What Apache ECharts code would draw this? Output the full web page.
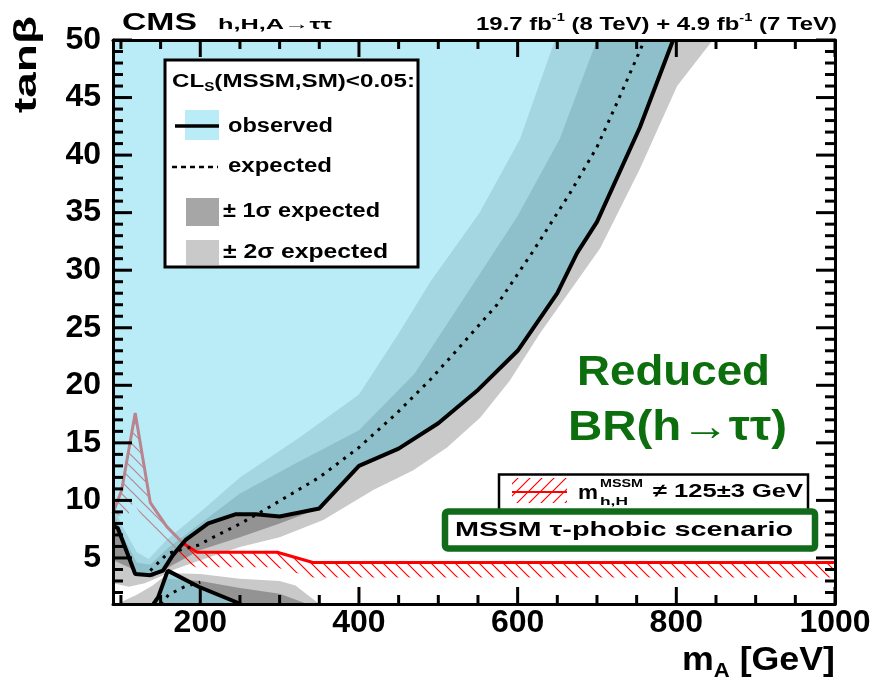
<!DOCTYPE html>
<html><head><meta charset="utf-8">
<script src="https://cdn.jsdelivr.net/npm/echarts@6/dist/echarts.min.js"></script>
<style>html,body{margin:0;padding:0;background:#fff}#c{width:875px;height:689px}</style>
</head><body><div id="c"></div>
<script>
// ---------- axis ranges & ticks ----------
const X_MIN = 90, X_MAX = 1000, Y_MIN = 1, Y_MAX = 50;
const xMajorTicks = [200, 400, 600, 800, 1000];
const xMinorTicks = [100, 150, 250, 300, 350, 450, 500, 550, 650, 700, 750, 850, 900, 950];
const yMajorTicks = [5, 10, 15, 20, 25, 30, 35, 40, 45, 50];
const yMinorTicks = [2,3,4,6,7,8,9,11,12,13,14,16,17,18,19,21,22,23,24,26,27,28,29,31,32,33,34,36,37,38,39,41,42,43,44,46,47,48,49];

// ---------- contours (mA [GeV], tanβ) ----------
const observedUpper = [[90,7.8],[96,7.6],[118,3.6],[137,3.5],[153,3.9],[165,5.2],[182,6.6],[210,8.0],[245,8.8],[270,8.8],[300,8.6],[350,9.3],[400,13.0],[450,14.5],[500,16.7],[550,19.6],[600,23.0],[650,28.0],[675,31.5],[700,34.2],[754,42.4],[796,50]];
const observedLower = [[141,1],[147,1.6],[159,3.9],[198,2.5],[251,1]];
const expectedUpper = [[137,3.9],[159,5.4],[197,6.1],[222,7.0],[251,8.0],[284,9.3],[350,12.0],[400,14.6],[448,17.6],[490,20.5],[524,23.1],[574,27.0],[619,31.6],[666,36.7],[700,40.7],[725,44.5],[760,50]];
const expectedLower = [[150,1],[160,1.8],[180,2.5],[200,2.9]];
const minus2Sigma = [[90,10.0],[100,8.0],[120,5.5],[135,4.9],[158,6.6],[200,9.0],[250,12.0],[326,15.5],[400,19.2],[450,24.5],[490,29.0],[552,35.0],[603,41.4],[647,50]];
const minus1Sigma = [[90,9.2],[100,7.2],[120,4.6],[137,4.4],[160,5.9],[200,8.0],[250,10.6],[320,13.2],[400,16.1],[470,21.0],[545,28.9],[599,34.6],[653,41.4],[700,50]];
const plus1Sigma = [[90,4.8],[110,4.2],[125,3.6],[140,3.3],[160,4.2],[200,5.7],[250,6.8],[300,8.0],[350,9.3],[400,13.0],[450,14.5],[500,16.7],[550,19.6],[600,23.0],[650,28.0],[675,31.5],[700,34.2],[754,42.4],[796,50]];
const plus2Sigma = [[90,2.8],[110,2.5],[130,2.8],[150,3.4],[167,4.0],[200,4.8],[250,5.95],[300,6.8],[355,8.3],[418,10.9],[468,12.6],[511,14.6],[553,17.2],[590,20.4],[628,24.5],[704,31.9],[754,38.8],[801,46],[846,50]];
const lower2Sigma = [[95,1],[120,1.8],[140,2.6],[160,3.7],[200,3.6],[250,3.2],[300,3.0],[320,2.6],[350,1]];
const lower1Sigma = [[145,1],[158,3.2],[200,3.0],[250,2.4],[300,1.9],[335,1]];
const mhLine = [[90,8.9],[95,9.8],[101,10.9],[118,17.6],[137,9.8],[158,7.7],[178,6.3],[196,5.5],[297,5.5],[342,4.6],[1000,4.6]];

// ---------- styling ----------
const FONT = '"Liberation Sans", Arial, Helvetica, sans-serif';
const CYAN_OVER = 'rgba(137,223,240,0.593)';
const GRAY2 = '#c9c9c9', GRAY1 = '#939393';
const GREEN = '#0c6e0c';

function makeHatch(dir) {
  const c = document.createElement('canvas'); c.width = 12; c.height = 12;
  const g = c.getContext('2d'); g.strokeStyle = '#ff0000'; g.lineWidth = 1.2; g.beginPath();
  if (dir === 'back') { g.moveTo(-3,-3); g.lineTo(15,15); g.moveTo(-3,9); g.lineTo(3,15); g.moveTo(9,-3); g.lineTo(15,3); }
  else { g.moveTo(-3,15); g.lineTo(15,-3); g.moveTo(-3,3); g.lineTo(3,-3); g.moveTo(9,15); g.lineTo(15,9); }
  g.stroke(); return c;
}
const hatchBack = { image: makeHatch('back'), repeat: 'repeat' };
const hatchFwd = { image: makeHatch('fwd'), repeat: 'repeat' };

const mctx = document.createElement('canvas').getContext('2d');
function tw(t, s) { mctx.font = 'bold ' + s + 'px ' + FONT; return mctx.measureText(t).width; }
function run(pieces, o) {
  let cx = 0; const children = [];
  pieces.forEach(p => {
    children.push({ type: 'text', x: cx, y: p.dy || 0, z: 103,
      style: { text: p.t, font: 'bold ' + p.s + 'px ' + FONT, fill: o.fill || '#000', align: 'left', verticalAlign: 'middle', textAlign: 'left', textVerticalAlign: 'middle' } });
    cx += tw(p.t, p.s);
  });
  const sx = o.width ? o.width / cx : 1;
  let x0 = o.x;
  if (!o.rotation) { if (o.align === 'right') x0 = o.x - o.width; else if (o.align === 'center') x0 = o.x - o.width / 2; }
  return { type: 'group', x: x0, y: o.y, scaleX: sx, rotation: o.rotation || 0, z: 103, children };
}

function polySeries(pts, fill, z) {
  return { type: 'custom', data: pts, clip: true, silent: true, z: z, encode: { x: 0, y: 1 },
    renderItem: (params, api) => {
      if (params.dataIndex !== 0) return null;
      return { type: 'polygon', shape: { points: pts.map(p => api.coord(p)) }, style: { fill: fill, stroke: null } };
    } };
}
function lineSeries(pts, style, z) {
  return { type: 'line', data: pts, z: z, showSymbol: false, symbol: 'none', silent: true, clip: true, lineStyle: style };
}
const hatchSeries = { type: 'custom', data: mhLine, clip: true, silent: true, z: 3, encode: { x: 0, y: 1 },
  renderItem: (params, api) => {
    if (params.dataIndex !== 0) return null;
    const P = mhLine.map(p => api.coord(p)); const H = 15; const off = [];
    for (let i = 0; i < P.length; i++) {
      const a = P[Math.max(0, i - 1)], b = P[Math.min(P.length - 1, i + 1)];
      let dx = b[0] - a[0], dy = b[1] - a[1]; const L = Math.hypot(dx, dy) || 1; dx /= L; dy /= L;
      off.push([P[i][0] - dy * H, P[i][1] + dx * H]);
    }
    return { type: 'polygon', shape: { points: P.concat(off.reverse()) }, style: { fill: hatchBack, stroke: null } };
  } };

// tick marks drawn inward on all four sides, positioned through the axis scales
function tickSeries(vals, orient, len) {
  return { type: 'custom', silent: true, clip: false, z: 20,
    data: vals.map(v => orient === 'x' ? [v, Y_MIN] : [X_MIN, v]), encode: { x: 0, y: 1 },
    renderItem: (params, api) => {
      const st = { stroke: '#000', lineWidth: 3 };
      if (orient === 'x') {
        const v = api.value(0); const a = api.coord([v, Y_MIN]); const b = api.coord([v, Y_MAX]);
        return { type: 'group', children: [
          { type: 'line', shape: { x1: a[0], y1: a[1], x2: a[0], y2: a[1] - len }, style: st },
          { type: 'line', shape: { x1: b[0], y1: b[1], x2: b[0], y2: b[1] + len }, style: st } ] };
      }
      const v = api.value(1); const a = api.coord([X_MIN, v]); const b = api.coord([X_MAX, v]);
      return { type: 'group', children: [
        { type: 'line', shape: { x1: a[0], y1: a[1], x2: a[0] + len, y2: a[1] }, style: st },
        { type: 'line', shape: { x1: b[0], y1: b[1], x2: b[0] - len, y2: b[1] }, style: st } ] };
    } };
}

function xAx(pos, label) {
  return { type: 'value', position: pos, min: X_MIN, max: X_MAX, z: 10, splitLine: { show: false },
    axisLine: { show: true, onZero: false, lineStyle: { color: '#000', width: 3 } },
    axisTick: { show: false },
    axisLabel: label ? { show: true, customValues: xMajorTicks, formatter: v => String(v), fontSize: 32, fontWeight: 'bold', fontFamily: FONT, color: '#000', margin: 3 } : { show: false } };
}
function yAx(pos, label) {
  return { type: 'value', position: pos, min: Y_MIN, max: Y_MAX, z: 10, splitLine: { show: false },
    axisLine: { show: true, onZero: false, lineStyle: { color: '#000', width: 3 } },
    axisTick: { show: false },
    axisLabel: label ? { show: true, customValues: yMajorTicks, formatter: v => String(v), fontSize: 32, fontWeight: 'bold', fontFamily: FONT, color: '#000', margin: 12 } : { show: false } };
}

const graphic = [
  run([{ t: 'CMS', s: 24 }], { x: 122, y: 23, width: 75 }),
  run([{ t: 'h,H,A\u2192\u03c4\u03c4', s: 15 }], { x: 218, y: 25, width: 114 }),
  run([{ t: '19.7 fb', s: 18 }, { t: '-1', s: 11, dy: -7 }, { t: ' (8 TeV) + 4.9 fb', s: 18 }, { t: '-1', s: 11, dy: -7 }, { t: ' (7 TeV)', s: 18 }], { x: 837, y: 25, width: 361, align: 'right' }),
  run([{ t: 'tan\u03b2', s: 32 }], { x: 27, y: 113, width: 97, rotation: Math.PI / 2 }),
  run([{ t: 'm', s: 34 }, { t: 'A', s: 21, dy: 10 }, { t: ' [GeV]', s: 34 }], { x: 835, y: 661, width: 153, align: 'right' }),
  { type: 'rect', z: 100, shape: { x: 165, y: 60, width: 253, height: 207 }, style: { fill: '#fff', stroke: '#000', lineWidth: 3 } },
  run([{ t: 'CL', s: 19 }, { t: 'S', s: 12, dy: 6 }, { t: '(MSSM,SM)<0.05:', s: 19 }], { x: 172, y: 82, width: 243 }),
  { type: 'rect', z: 101, shape: { x: 185, y: 110, width: 34, height: 30 }, style: { fill: '#b9ecf6' } },
  { type: 'line', z: 102, shape: { x1: 175, y1: 126, x2: 219, y2: 126 }, style: { stroke: '#000', lineWidth: 3.5 } },
  run([{ t: 'observed', s: 20 }], { x: 228, y: 126, width: 105 }),
  { type: 'line', z: 102, shape: { x1: 172, y1: 167, x2: 218, y2: 167 }, style: { stroke: '#000', lineWidth: 2.5, lineDash: [5, 4] } },
  run([{ t: 'expected', s: 20 }], { x: 228, y: 166.5, width: 104 }),
  { type: 'rect', z: 101, shape: { x: 186, y: 198, width: 33, height: 28 }, style: { fill: '#a6a6a6' } },
  run([{ t: '\u00b1 1\u03c3 expected', s: 20 }], { x: 223, y: 211, width: 157 }),
  { type: 'rect', z: 101, shape: { x: 186, y: 240, width: 33, height: 25 }, style: { fill: '#c9c9c9' } },
  run([{ t: '\u00b1 2\u03c3 expected', s: 20 }], { x: 223, y: 252.5, width: 165 }),
  run([{ t: 'Reduced', s: 42 }], { x: 577, y: 373, width: 193, fill: GREEN }),
  run([{ t: 'BR(h\u2192\u03c4\u03c4)', s: 42 }], { x: 568, y: 428, width: 219, fill: GREEN }),
  { type: 'rect', z: 100, shape: { x: 499, y: 474.5, width: 309, height: 40 }, style: { fill: '#fff', stroke: '#000', lineWidth: 2.5 } },
  { type: 'rect', z: 101, shape: { x: 512, y: 478, width: 55, height: 25 }, style: { fill: hatchFwd } },
  { type: 'line', z: 102, shape: { x1: 512, y1: 492, x2: 567, y2: 492 }, style: { stroke: '#ff0000', lineWidth: 2 } },
  run([{ t: 'm', s: 20 }], { x: 578, y: 493, width: 20 }),
  run([{ t: 'MSSM', s: 11 }], { x: 600, y: 484, width: 43 }),
  run([{ t: 'h,H', s: 11 }], { x: 600, y: 502, width: 28 }),
  run([{ t: '\u2260 125\u00b13 GeV', s: 19 }], { x: 653, y: 491.5, width: 150 }),
  { type: 'rect', z: 102, shape: { x: 445, y: 511.5, width: 370, height: 37, r: 3 }, style: { fill: '#fff', stroke: '#116b1a', lineWidth: 6.5 } },
  run([{ t: 'MSSM \u03c4-phobic scenario', s: 21 }], { x: 455, y: 530, width: 338 })
];

const chart = echarts.init(document.getElementById('c'), null, { renderer: 'canvas' });
chart.setOption({
  backgroundColor: '#fff',
  animation: false,
  grid: { left: 113, right: 40, top: 40, bottom: 85, containLabel: false },
  xAxis: [xAx('bottom', true), xAx('top', false)],
  yAxis: [yAx('left', true), yAx('right', false)],
  series: [
    polySeries(minus2Sigma.concat(plus2Sigma.slice().reverse()), GRAY2, 1),
    polySeries(lower2Sigma, GRAY2, 1),
    polySeries(minus1Sigma.concat(plus1Sigma.slice().reverse()), GRAY1, 2),
    polySeries(lower1Sigma, GRAY1, 2),
    hatchSeries,
    lineSeries(mhLine, { color: '#ff0000', width: 3 }, 4),
    polySeries([[X_MIN, Y_MAX]].concat(observedUpper), CYAN_OVER, 5),
    polySeries(observedLower, CYAN_OVER, 5),
    lineSeries(expectedUpper, { color: '#000', width: 3, type: [3, 6] }, 6),
    lineSeries(expectedLower, { color: '#000', width: 3, type: [3, 6] }, 6),
    lineSeries(observedUpper, { color: '#000', width: 4 }, 7),
    lineSeries(observedLower, { color: '#000', width: 4 }, 7),
    tickSeries(xMajorTicks, 'x', 17),
    tickSeries(xMinorTicks, 'x', 9),
    tickSeries(yMajorTicks, 'y', 19),
    tickSeries(yMinorTicks, 'y', 10)
  ],
  graphic: graphic
});
</script></body></html>
